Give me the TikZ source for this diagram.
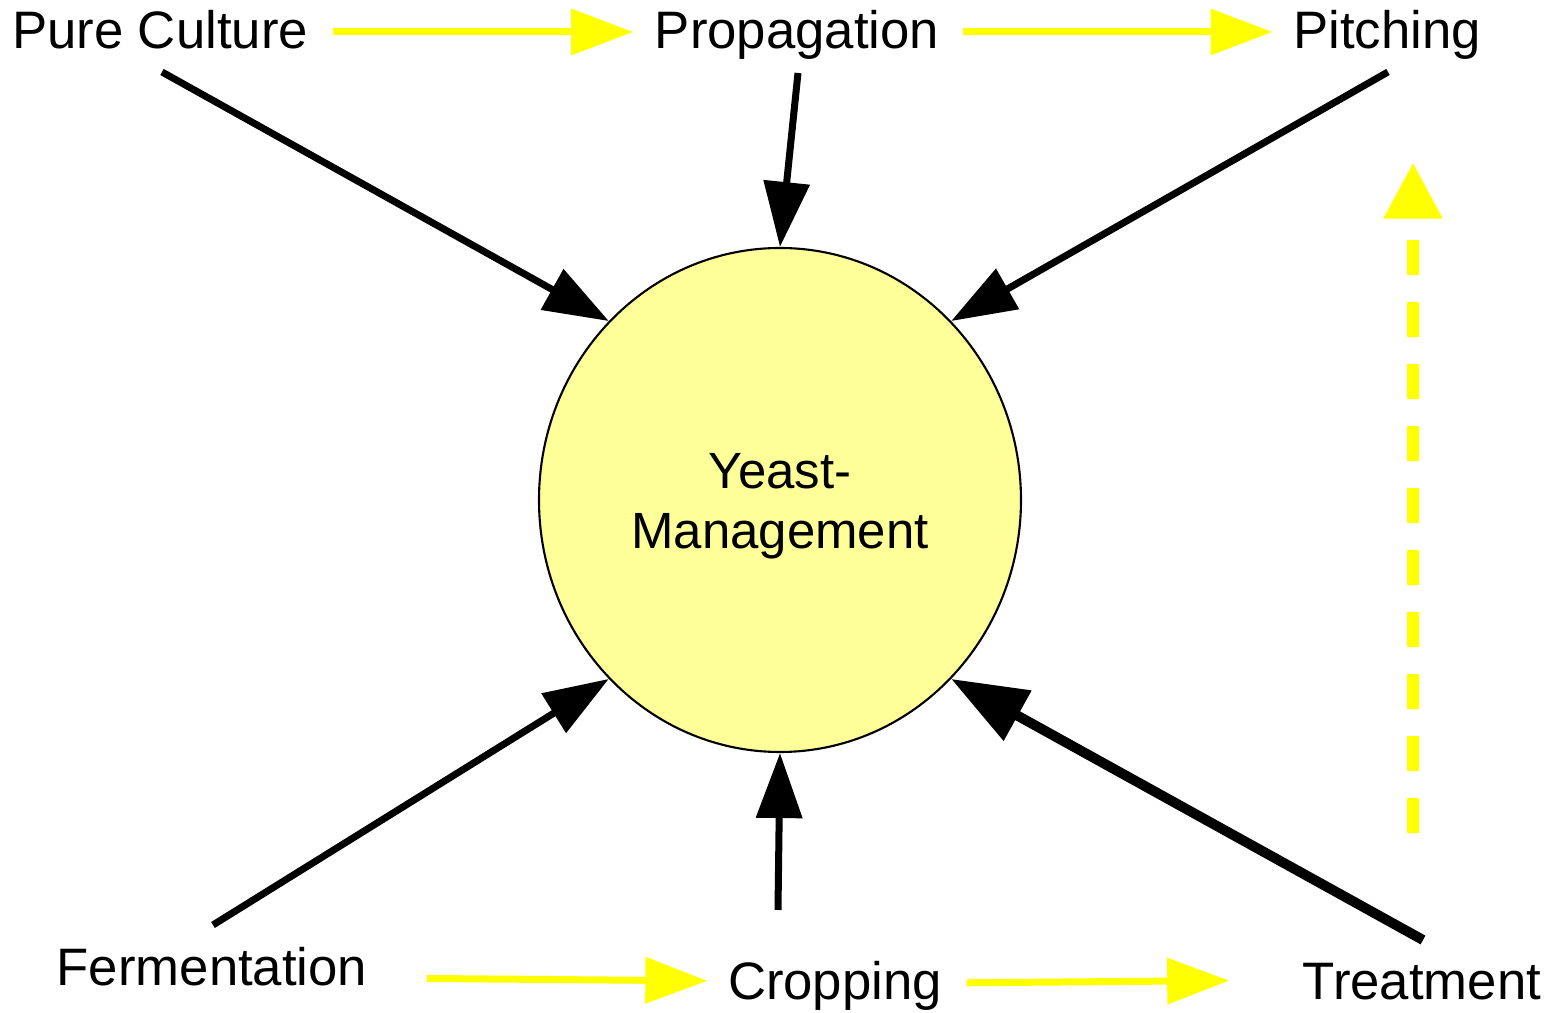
\documentclass[tikz,border=0pt]{standalone}
\usepackage{fontspec}
\setmainfont{Liberation Sans}
\usepackage{xcolor}
\usetikzlibrary{positioning, shapes.geometric, arrows.meta, calc}
\definecolor{hubfill}{RGB}{255,255,153}
\definecolor{flowyellow}{RGB}{255,255,0}

\begin{document}
\begin{tikzpicture}[
    stage/.style={inner sep=0pt, anchor=base, font=\fontsize{15}{18}\selectfont},
    hub/.style={ellipse, draw, line width=0.6pt, fill=hubfill, minimum width=4.82cm, minimum height=5.04cm, align=center, text height=1.08cm, font=\fontsize{14.5}{17}\selectfont},
    feed/.style={line width=0.07cm, -{Triangle[length=0.65cm, width=0.45cm]}},
    heavyfeed/.style={line width=0.1cm, -{Triangle[length=0.76cm, width=0.55cm]}},
    flow/.style={flowyellow, line width=0.07cm, -{Triangle[length=0.62cm, width=0.45cm]}},
    recycle/.style={flowyellow, line width=0.12cm, dash pattern=on 0.35cm off 0.27cm, -{Triangle[length=0.56cm, width=0.56cm]}}
]
\useasboundingbox (0,0) rectangle (15.66,10.13);

% Central node
\node[hub] (yeast) at (7.80,5.13) {Yeast-\\Management};

% Process stages
\node[stage] (pure) at (1.60,9.64) {Pure Culture};
\node[stage] (prop) at (7.97,9.64) {Propagation};
\node[stage] (pitch) at (13.87,9.64) {Pitching};
\node[stage] (ferm) at (2.12,0.27) {Fermentation};
\node[stage] (crop) at (8.35,0.13) {Cropping};
\node[stage] (treat) at (14.22,0.13) {Treatment};

% Links into yeast management
\draw[feed] ([xshift=0.02cm, yshift=-0.23cm]pure.base) -- (yeast.north west);
\draw[feed] ([xshift=0.01cm, yshift=-0.24cm]prop.base) -- (yeast.north);
\draw[feed] ([xshift=0.01cm, yshift=-0.23cm]pitch.base) -- (yeast.north east);
\draw[feed] ([xshift=0.01cm, yshift=0.61cm]ferm.base) -- (yeast.south west);
\draw[feed] ([xshift=-0.57cm, yshift=0.90cm]crop.base) -- (yeast.south);
\draw[heavyfeed] ([xshift=0.01cm, yshift=0.60cm]treat.base) -- (yeast.south east);

% Process flow
\draw[flow, shorten <=0.24cm, shorten >=0.21cm] ([yshift=0.17cm]pure.base east) -- ([yshift=0.17cm]prop.base west);
\draw[flow, shorten <=0.23cm, shorten >=0.20cm] ([yshift=0.17cm]prop.base east) -- ([yshift=0.17cm]pitch.base west);
\draw[flow, shorten <=0.59cm, shorten >=0.20cm] ([yshift=0.08cm]ferm.base east) -- ([yshift=0.19cm]crop.base west);
\draw[flow, shorten <=0.24cm, shorten >=0.73cm] ([yshift=0.17cm]crop.base east) -- ([yshift=0.20cm]treat.base west);

% Recycling back to pitching
\draw[recycle, shorten <=1.30cm, shorten >=1.02cm] ([xshift=-0.09cm]treat.north) -- ([xshift=0.26cm]pitch.south);

\end{tikzpicture}
\end{document}
